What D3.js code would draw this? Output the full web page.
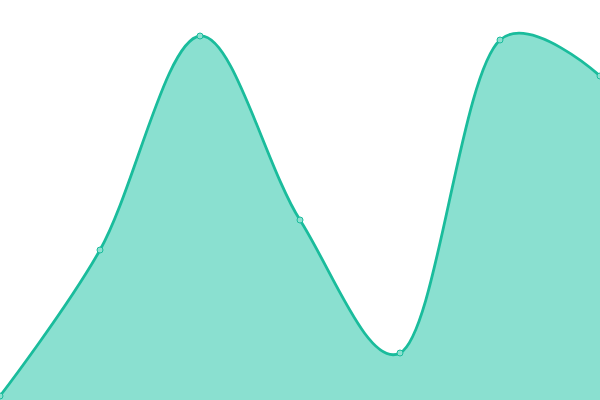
<!DOCTYPE html>
<html><head><meta charset="utf-8">
<script src="https://cdn.jsdelivr.net/npm/d3@7"></script>
<style>html,body{margin:0;padding:0;background:#fff;overflow:hidden}</style>
</head><body>
<svg id="chart" width="600" height="400"></svg>
<script>
const categories = [0, 1, 2, 3, 4, 5, 6];
const values = [1, 37.5, 91, 45, 11.75, 90, 81];

const width = 600, height = 400;
const svg = d3.select("#chart");
const x = d3.scaleLinear().domain([0, 6]).range([0, width]);
const y = d3.scaleLinear().domain([0, 100]).range([height, 0]);
const data = categories.map((c, i) => ({c, v: values[i]}));

const curve = d3.curveCatmullRom.alpha(0.25);
const area = d3.area().x(d => x(d.c)).y0(height).y1(d => y(d.v)).curve(curve);
const line = d3.line().x(d => x(d.c)).y(d => y(d.v)).curve(curve);

svg.append("path").datum(data).attr("d", area).attr("fill", "#8ae0d0");
svg.append("path").datum(data).attr("d", line).attr("fill", "none").attr("stroke", "#1abc9c").attr("stroke-width", 2.8);
svg.selectAll("circle").data(data).join("circle")
  .attr("cx", d => x(d.c)).attr("cy", d => y(d.v)).attr("r", 3)
  .attr("fill", "#8ce0d0").attr("stroke", "#1abc9c").attr("stroke-width", 1);
</script>
</body></html>
